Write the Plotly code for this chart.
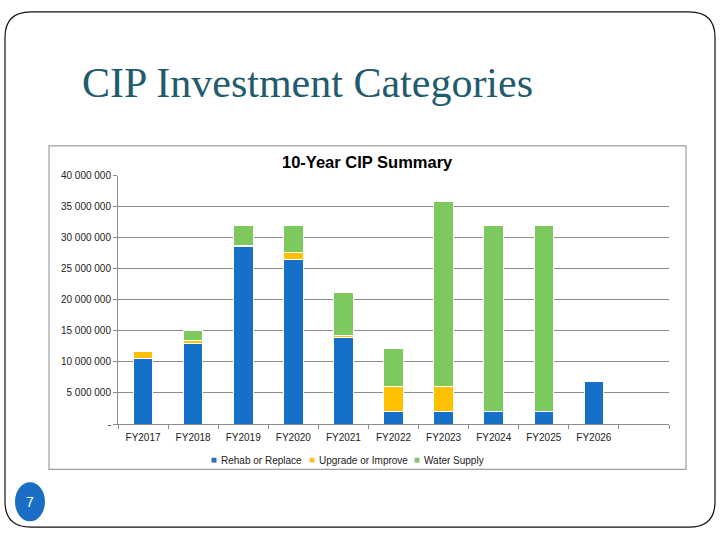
"""
CIP Investment Categories slide: 10-Year CIP Summary stacked bar chart
"""

import plotly.graph_objects as go

# ── Data ──────────────────────────────────────────────────────────────────────

years = ["FY2017", "FY2018", "FY2019", "FY2020", "FY2021",
         "FY2022", "FY2023", "FY2024", "FY2025", "FY2026"]

rehab_replace = [10500000, 13000000, 28600000, 26500000, 14000000,
                 2000000, 2000000, 2000000, 2000000, 6800000]
upgrade_improve = [1200000, 500000, 200000, 1200000, 200000,
                   4100000, 4100000, 0, 0, 0]
water_supply = [200000, 1500000, 3200000, 4300000, 7000000,
                6000000, 29800000, 30000000, 30000000, 0]

series_names = ["Rehab or Replace", "Upgrade or Improve", "Water Supply"]

y_ticks = [0, 5000000, 10000000, 15000000, 20000000,
           25000000, 30000000, 35000000, 40000000]
y_tick_text = ["-", "5 000 000", "10 000 000", "15 000 000", "20 000 000",
               "25 000 000", "30 000 000", "35 000 000", "40 000 000"]

W, H = 720, 540
COLORS = ["#1570C8", "#FFC000", "#7DC95E"]
LEGEND_MARKS = ["#2E6CB5", "#F2C230", "#8DBF7A"]
GRID = "#8C8C8C"


def px_x(v):
    return v / W


def px_y(v):
    return 1 - v / H


# ── Figure ────────────────────────────────────────────────────────────────────

fig = go.Figure()
for name, vals, col in zip(series_names,
                           [rehab_replace, upgrade_improve, water_supply],
                           COLORS):
    fig.add_trace(go.Bar(
        x=years, y=vals, name=name,
        marker=dict(color=col, line=dict(color="white", width=1)),
    ))

fig.update_layout(
    width=W, height=H,
    margin=dict(l=0, r=0, t=0, b=0),
    paper_bgcolor="white", plot_bgcolor="white",
    barmode="stack", bargap=0.61,
    font=dict(family="Liberation Sans, Arial", size=10, color="#222"),
    showlegend=False,
    xaxis=dict(
        domain=[px_x(118), px_x(669)],
        type="category", categoryorder="array",
        categoryarray=years + [" "], range=[-0.5, 10.5],
        showline=True, linecolor=GRID, linewidth=1,
        ticks="outside", tickson="boundaries", ticklen=4, tickcolor=GRID,
        ticklabelstandoff=4,
        showgrid=False, tickfont=dict(size=10),
    ),
    yaxis=dict(
        domain=[px_y(427.5), px_y(173.5)],
        range=[0, 40000000],
        tickvals=y_ticks, ticktext=y_tick_text,
        showline=True, linecolor=GRID, linewidth=1,
        ticks="outside", ticklen=4, tickcolor=GRID,
        showgrid=True, gridcolor=GRID, gridwidth=1,
        zeroline=False, tickfont=dict(size=10),
    ),
)

# compact legend under the plot (square swatch + label)
legend_x = [214, 312, 417]
for name, col, lx in zip(series_names, LEGEND_MARKS, legend_x):
    fig.add_shape(type="rect", xref="paper", yref="paper",
                  x0=px_x(lx - 2.5), x1=px_x(lx + 2.5),
                  y0=px_y(467), y1=px_y(462),
                  fillcolor=col, line=dict(width=0))
    fig.add_annotation(x=px_x(lx + 5), y=px_y(465), xref="paper", yref="paper",
                       text=name, showarrow=False, xanchor="left", yanchor="middle",
                       font=dict(size=10, color="#222"))

# slide frame with rounded corners
r = 26
x0, y0, x1, y1 = px_x(5), px_y(6), px_x(715), px_y(533)
rx, ry = r / W, r / H
path = (f"M {x0 + rx} {y0} L {x1 - rx} {y0} Q {x1} {y0} {x1} {y0 - ry} "
        f"L {x1} {y1 + ry} Q {x1} {y1} {x1 - rx} {y1} "
        f"L {x0 + rx} {y1} Q {x0} {y1} {x0} {y1 + ry} "
        f"L {x0} {y0 - ry} Q {x0} {y0} {x0 + rx} {y0} Z")
fig.add_shape(type="path", path=path, xref="paper", yref="paper",
              line=dict(color="#111", width=1.2))

# chart area box
fig.add_shape(type="rect", xref="paper", yref="paper",
              x0=px_x(49), x1=px_x(686), y0=px_y(474), y1=px_y(143),
              line=dict(color="#A0A0A0", width=1.2), layer="below")

# page number badge
fig.add_shape(type="circle", xref="paper", yref="paper",
              x0=px_x(16), x1=px_x(44), y0=px_y(526), y1=px_y(488),
              fillcolor="#1A6FC4", line=dict(color="#1A6FC4"))
fig.add_annotation(x=px_x(30), y=px_y(507), xref="paper", yref="paper",
                   text="7", showarrow=False, xanchor="center", yanchor="middle",
                   font=dict(size=14, color="white", family="Liberation Sans"))

# slide title and chart title
fig.add_annotation(x=px_x(80), y=px_y(79), xref="paper", yref="paper",
                   text="CIP Investment Categories", showarrow=False,
                   xanchor="left", yanchor="middle",
                   font=dict(size=42, color="#1F5C6E",
                             family="Liberation Serif, DejaVu Serif"))
fig.add_annotation(x=px_x(367), y=px_y(160), xref="paper", yref="paper",
                   text="<b>10-Year CIP Summary</b>", showarrow=False,
                   xanchor="center", yanchor="middle",
                   font=dict(size=16.5, color="black", family="Liberation Sans, Arial"))

fig.write_html("out.html", config={"displayModeBar": False},
               post_script="document.body.style.margin = '0';")
